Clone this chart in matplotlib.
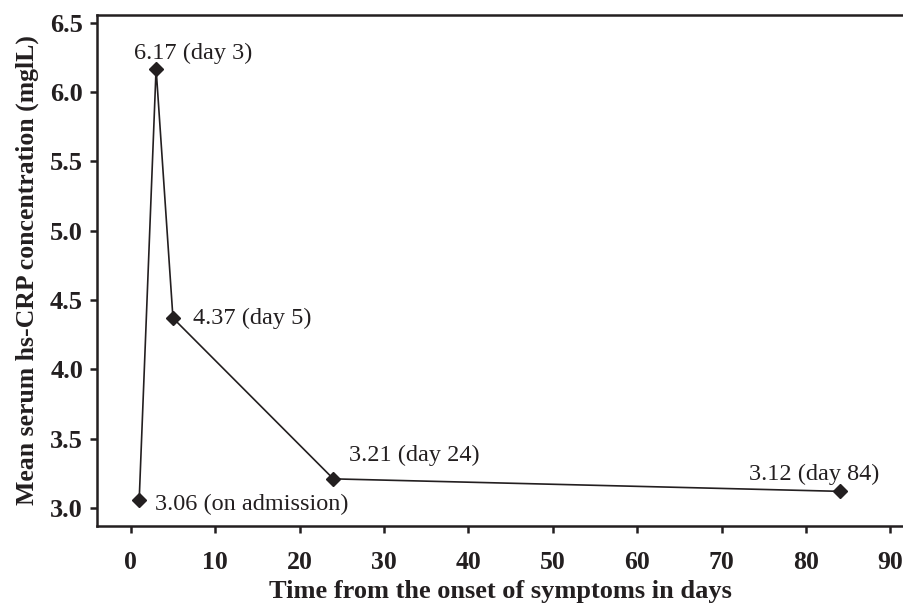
import matplotlib.pyplot as plt

days = [1, 3, 5, 24, 84]
crp = [3.06, 6.17, 4.37, 3.21, 3.12]
labels = ["3.06 (on admission)", "6.17 (day 3)", "4.37 (day 5)", "3.21 (day 24)", "3.12 (day 84)"]
xticks = [0, 10, 20, 30, 40, 50, 60, 70, 80, 90]
yticks = [3.0, 3.5, 4.0, 4.5, 5.0, 5.5, 6.0, 6.5]

INK = "#231f20"

plt.rcParams["font.family"] = ["Liberation Serif", "DejaVu Serif"]

fig = plt.figure(figsize=(9.04, 6.06), dpi=100)
ax = fig.add_axes([97 / 904, 80 / 606, 1 - 97 / 904, (526 - 15) / 606])

ax.plot(days, crp, color=INK, lw=1.2, marker="D", ms=7, mfc=INK, mec=INK)

# label placement: (dx, dy) in pixels, anchored by ha with centred baseline
offsets = [(16, -5), (-22, 15), (20, 0), (16, 23), (40, 17)]
aligns = ["left", "left", "left", "left", "right"]
for x, y, txt, off, ha in zip(days, crp, labels, offsets, aligns):
    ax.annotate(txt, (x, y), xytext=off, textcoords="offset pixels",
                ha=ha, va="center", fontsize=17.5, color=INK)

ax.set_xlim(-4, 91.6)
ax.set_ylim(2.87, 6.556)
ax.set_xticks(xticks)
ax.set_yticks(yticks)
ax.set_yticklabels([f"{v:.1f}" for v in yticks])

ax.spines["right"].set_visible(False)
for s in ["left", "top", "bottom"]:
    ax.spines[s].set_linewidth(1.8)
    ax.spines[s].set_color(INK)

ax.tick_params(axis="both", direction="out", length=5, width=1.8, color=INK,
               labelsize=19, labelcolor=INK)
ax.tick_params(axis="x", labelsize=18.5, pad=13)
ax.tick_params(axis="y", pad=5)
for lab in ax.get_xticklabels() + ax.get_yticklabels():
    lab.set_fontweight("bold")

ax.set_xlabel("Time from the onset of symptoms in days", fontsize=19,
              fontweight="bold", color=INK, labelpad=4)
ax.set_ylabel("Mean serum hs-CRP concentration (mglL)", fontsize=18.5,
              fontweight="bold", color=INK, labelpad=8)

fig.savefig("out.png", dpi=100)
